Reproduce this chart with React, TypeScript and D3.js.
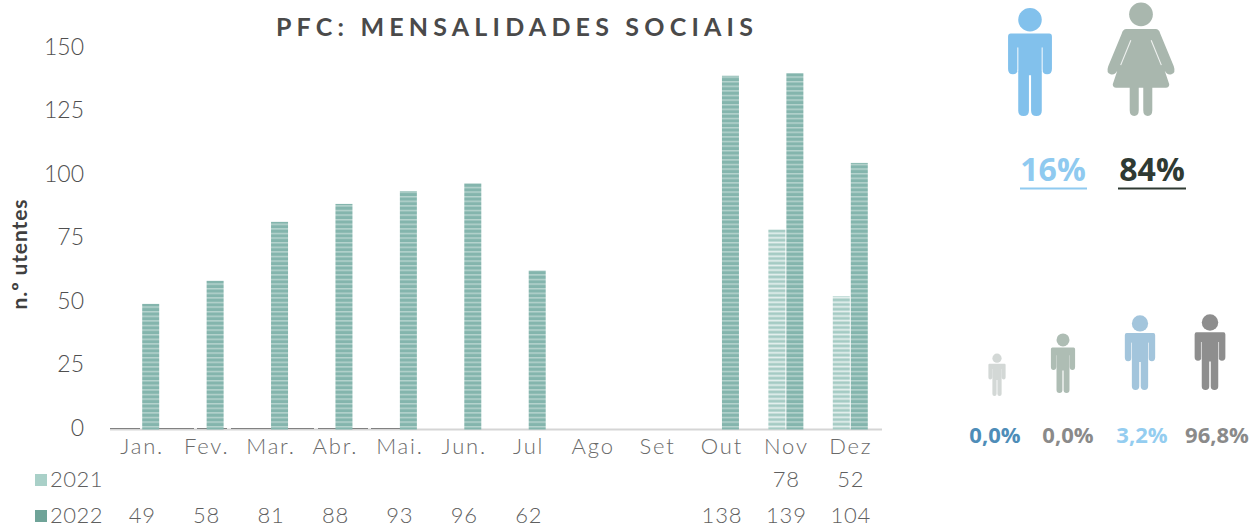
import React from "react";
import * as d3 from "d3";

const months = ["Jan.", "Fev.", "Mar.", "Abr.", "Mai.", "Jun.", "Jul", "Ago", "Set", "Out", "Nov", "Dez"];
const series2021: (number | null)[] = [null, null, null, null, null, null, null, null, null, null, 78, 52];
const series2022: (number | null)[] = [49, 58, 81, 88, 93, 96, 62, null, null, 138, 139, 104];
const yTicks = [0, 25, 50, 75, 100, 125, 150];
const genderLabels = ["16%", "84%"];
const ageLabels = ["0,0%", "0,0%", "3,2%", "96,8%"];

const FONT = "Lato, 'Open Sans', sans-serif";
const WIDTH = 1253, HEIGHT = 529;

const x = d3.scaleBand<string>().domain(months).range([110, 883]);
const y = d3.scaleLinear().domain([0, 150]).range([429.5, 45]);
const yLabel = d3.scaleLinear().domain([0, 150]).range([430, 49]);
const sub = d3.scaleBand<string>().domain(["2021", "2022"]).range([0, 36]);
const BAR_W = 17;
const shift = (x.bandwidth() - 36) / 2;

function Man({ cx, top, h, color, slit = true }: any) {
  const s = h / 100;
  return (
    <g transform={`translate(${cx},${top}) scale(${s})`} fill={color}>
      <circle cx={0} cy={10} r={11} />
      <path d="M-18,23 Q-20.5,23 -20.5,26 L-20.5,56 Q-20.5,61 -16,61 Q-11.5,61 -11.5,56 L-11.5,36 L-11,36 L-11,95 Q-11,100 -6,100 Q-1,100 -1,95 L-1,62 L1,62 L1,95 Q1,100 6,100 Q11,100 11,95 L11,36 L11.5,36 L11.5,56 Q11.5,61 16,61 Q20.5,61 20.5,56 L20.5,26 Q20.5,23 18,23 Z" />
      {slit && <path d="M-11.5,36 L-11.5,58 M11.5,36 L11.5,58" stroke="#fff" strokeOpacity={0.55} strokeWidth={1} fill="none" />}
    </g>
  );
}

function Woman({ cx, top, h, color }: any) {
  const s = h / 100;
  return (
    <g transform={`translate(${cx},${top}) scale(${s})`} fill={color}>
      <circle cx={0} cy={10} r={10.5} />
      <path d="M-13,23 L13,23 Q16,23 17,27 L29,56 Q31,62 27,63 Q23,64 21,60 L25,72 Q25,75 22,75 L10,75 L10,95 Q10,100 6,100 Q2,100 2,95 L2,75 L-2,75 L-2,95 Q-2,100 -6,100 Q-10,100 -10,95 L-10,75 L-22,75 Q-25,75 -25,72 L-21,60 Q-23,64 -27,63 Q-31,62 -29,56 L-17,27 Q-16,23 -13,23 Z" />
      <path d="M-9,33 L-18,55 M9,33 L18,55" stroke="#fff" strokeWidth={1} fill="none" strokeOpacity={0.8} />
    </g>
  );
}

function Table({ yPos, label, values, fill }: any) {
  return (
    <g fontFamily={FONT} fontSize={22} fontWeight={300} fill="#5f5f5f">
      <rect x={35} y={yPos - 8} width={12} height={12} fill={fill} />
      <text x={50} y={yPos} dominantBaseline="middle" letterSpacing={0.5}>{label}</text>
      {values.map((v: number | null, i: number) =>
        v == null ? null : (
          <text key={i} x={(x(months[i]) as number) + x.bandwidth() / 2} y={yPos} textAnchor="middle" dominantBaseline="middle" letterSpacing={0.8}>{v}</text>
        )
      )}
    </g>
  );
}

export default function App() {
  return (
    <svg width={WIDTH} height={HEIGHT} style={{ position: "absolute", left: 0, top: 0, background: "#fff" }}>
      <defs>
        <pattern id="p2022" width={4} height={4.6} patternUnits="userSpaceOnUse">
          <rect width={4} height={4.6} fill="#84b5ad" />
          <rect y={2.8} width={4} height={1.4} fill="#b9d6d0" />
        </pattern>
        <pattern id="p2021" width={4} height={4.6} patternUnits="userSpaceOnUse">
          <rect width={4} height={4.6} fill="#a5cbc4" />
          <rect y={2.4} width={4} height={1.7} fill="#e6f1ef" />
        </pattern>
      </defs>

      <text x={517} y={30} textAnchor="middle" dominantBaseline="middle" fontFamily={FONT} fontWeight={700} fontSize={25} letterSpacing={5.2} fill="#4a4a4a">PFC: MENSALIDADES SOCIAIS</text>

      {yTicks.map(t => (
        <text key={t} x={84} y={yLabel(t)} textAnchor="end" dominantBaseline="middle" fontFamily={FONT} fontSize={23} fontWeight={300} fill="#4f4f4f">{t}</text>
      ))}
      <text transform="translate(22,254) rotate(-90)" textAnchor="middle" dominantBaseline="middle" fontFamily={FONT} fontWeight={700} fontSize={21} letterSpacing={0.9} fill="#3f3f3f">n.º utentes</text>

      <line x1={110} x2={882} y1={429.5} y2={429.5} stroke="#d5d5d5" strokeWidth={2} />
      <line x1={110} x2={400} y1={428.5} y2={428.5} stroke="#555" strokeWidth={1} strokeDasharray="30 4 50 3" opacity={0.7} />

      {months.map((m, i) => {
        const x0 = (x(m) as number) + shift;
        return (
          <g key={m}>
            {series2021[i] != null && (
              <rect x={x0 + (sub("2021") as number)} y={y(series2021[i] as number)} width={BAR_W} height={y(0) - y(series2021[i] as number)} fill="url(#p2021)" />
            )}
            {series2022[i] != null && (
              <rect x={x0 + (sub("2022") as number)} y={y(series2022[i] as number)} width={BAR_W} height={y(0) - y(series2022[i] as number)} fill="url(#p2022)" />
            )}
            <text x={(x(m) as number) + x.bandwidth() / 2} y={449} textAnchor="middle" dominantBaseline="middle" fontFamily={FONT} fontSize={22} fontWeight={300} letterSpacing={1.8} fill="#6a6a6a">{m}</text>
          </g>
        );
      })}

      <Table yPos={482} label="2021" values={series2021} fill="#a9d0c8" />
      <Table yPos={518} label="2022" values={series2022} fill="#6fa398" />

      <Man cx={1030} top={9} h={107} color="#82c1ec" />
      <Woman cx={1141} top={3} h={113} color="#a9b7ae" />

      <text x={1053} y={172} textAnchor="middle" dominantBaseline="middle" fontFamily="'Open Sans', sans-serif" fontWeight={700} fontSize={32} fill="#8fcaf0">{genderLabels[0]}</text>
      <line x1={1020} x2={1087} y1={188.5} y2={188.5} stroke="#8fcaf0" strokeWidth={2} />
      <text x={1152} y={172} textAnchor="middle" dominantBaseline="middle" fontFamily="'Open Sans', sans-serif" fontWeight={700} fontSize={32} fill="#2f3a33">{genderLabels[1]}</text>
      <line x1={1118} x2={1186} y1={188.5} y2={188.5} stroke="#2f3a33" strokeWidth={2} />

      <Man cx={997} top={354} h={42} color="#d3d8d6" slit={false} />
      <Man cx={1063} top={334} h={59} color="#aebdb4" slit={false} />
      <Man cx={1140} top={316} h={74} color="#a3c5dc" />
      <Man cx={1210} top={315} h={75} color="#8e8e8e" />

      {ageLabels.map((l, i) => (
        <text key={i} x={[995, 1068, 1142, 1217][i]} y={437} textAnchor="middle" dominantBaseline="middle" fontFamily="'Open Sans', sans-serif" fontWeight={700} fontSize={22} fill={["#4e8db8", "#8a8a8a", "#94cdf0", "#8a8a8a"][i]}>{l}</text>
      ))}
    </svg>
  );
}
